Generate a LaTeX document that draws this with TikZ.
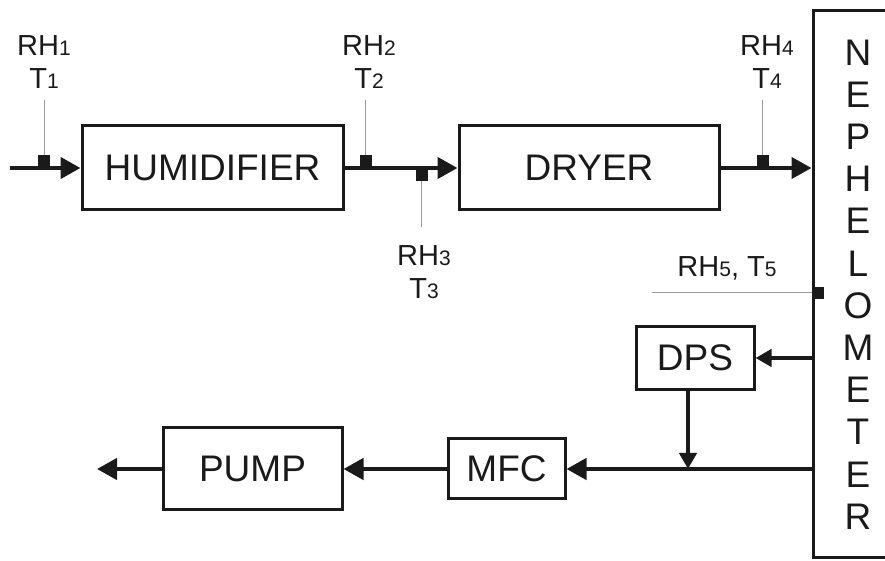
\documentclass[tikz,border=0pt]{standalone}
\usepackage{fontspec}
\setmainfont{Liberation Sans}
\usetikzlibrary{arrows.meta,positioning}
\definecolor{dgink}{HTML}{1A1A1A}
\definecolor{dgprobe}{HTML}{9A9A9A}
\newcommand{\idx}[1]{{\fontsize{10.5pt}{10.5pt}\selectfont #1}}

\begin{document}
\begin{tikzpicture}[x=0.5pt, y=-0.5pt,
  unit/.style={draw=dgink, line width=1.5pt, inner sep=0pt, text=dgink,
    font=\fontsize{18.5pt}{21.1pt}\selectfont},
  flow/.style={draw=dgink, line width=2.2pt, -{Triangle[length=10pt, width=10.5pt]}},
  flowsmall/.style={draw=dgink, line width=2pt, -{Triangle[length=8pt, width=8.5pt]}},
  sensor/.style={fill=dgink, inner sep=0pt, minimum size=6pt},
  probe/.style={draw=dgprobe, line width=0.5pt},
  tag/.style={font=\fontsize{14.5pt}{16.5pt}\selectfont, text=dgink, inner sep=0pt, align=center}]
  \useasboundingbox (0,0) rectangle (885,561);
  \clip (0,0) rectangle (885,561);
  % units
  \node[unit, minimum width=130.5pt, minimum height=42pt] (hum) at (212.5,168) {HUMIDIFIER};
  \node[unit, minimum width=130pt, minimum height=42pt] (dry) at (589,168) {DRYER};
  \node[unit, minimum width=45pt, minimum height=273.5pt, align=center] (neph) at (858,284.5)
    {N\\E\\P\\H\\E\\L\\O\\M\\E\\T\\E\\R};
  \node[unit, minimum width=59pt, minimum height=31.5pt] (dps) at (695,358) {DPS};
  \node[unit, minimum width=58.5pt, minimum height=30pt] (mfc) at (506.5,469) {MFC};
  \node[unit, minimum width=89.5pt, minimum height=41pt] (pump) at (252.5,469) {PUMP};
  \coordinate (inlet) at (10,168);
  \coordinate (outlet) at (97,469);
  \coordinate (tap5) at (652,293);
  % sample flow
  \draw[flow] (inlet) -- (hum.west);
  \draw[flow] (hum.east) -- (dry.west);
  \draw[flow] (dry.east) -- (dry.east -| neph.west);
  \draw[flowsmall] (neph.west |- dps.east) -- (dps.east);
  \draw[flowsmall] ([xshift=-3.5pt]dps.south) -- ([xshift=-3.5pt]dps.south |- mfc.east);
  \draw[flow] (neph.west |- mfc.east) -- (mfc.east);
  \draw[flow] (mfc.west) -- (pump.east);
  \draw[flow] (pump.west) -- (outlet);
  % RH and T sensors
  \node[sensor] (s1) at (44,161) {};
  \node[sensor] (s2) at (365.5,161) {};
  \node[sensor] (s3) at (421.5,175) {};
  \node[sensor] (s4) at (762.5,161) {};
  \node[sensor] (s5) at (818,293) {};
  \node[tag] (l1) at (44,62) {RH\idx{1}\\T\idx{1}};
  \node[tag] (l2) at (369,62) {RH\idx{2}\\T\idx{2}};
  \node[tag] (l3) at (424,272) {RH\idx{3}\\T\idx{3}};
  \node[tag] (l4) at (767,62) {RH\idx{4}\\T\idx{4}};
  \node[tag] (l5) at (727,268) {RH\idx{5}, T\idx{5}};
  \draw[probe, shorten >=5.5pt] (s1.north) -- (s1.north |- l1.south);
  \draw[probe, shorten >=5.5pt] (s2.north) -- (s2.north |- l2.south);
  \draw[probe, shorten >=9pt] (s3.south) -- (s3.south |- l3.north);
  \draw[probe, shorten >=5.5pt] (s4.north) -- (s4.north |- l4.south);
  \draw[probe] (s5.west) -- (tap5);
\end{tikzpicture}
\end{document}
